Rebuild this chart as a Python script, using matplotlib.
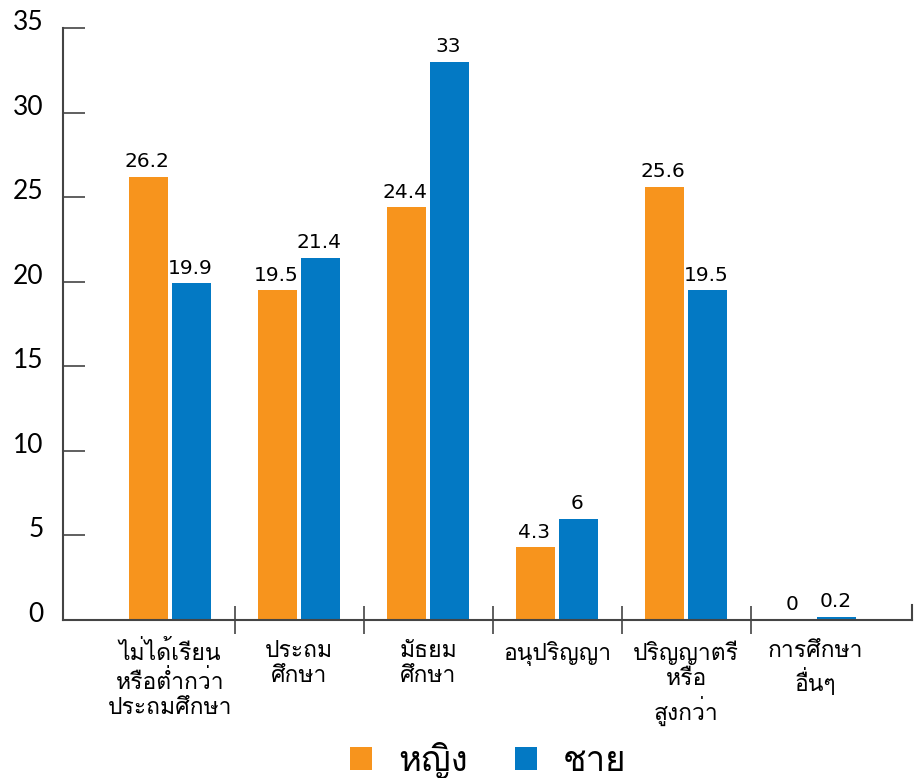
import matplotlib
matplotlib.use('Agg')
import matplotlib.pyplot as plt
import matplotlib.transforms as mtransforms
from matplotlib import font_manager
from matplotlib.ft2font import FT2Font
import numpy as np

# Данные
categories = ['ไม่ได้เรียน\nหรือต่ำกว่า\nประถมศึกษา', 'ประถม\nศึกษา', 'มัธยม\nศึกษา',
              'อนุปริญญา', 'ปริญญาตรี\nหรือ\nสูงกว่า', 'การศึกษา\nอื่นๆ']
female = [26.2, 19.5, 24.4, 4.3, 25.6, 0]
male = [19.9, 21.4, 33, 6, 19.5, 0.2]
female_labels = ['26.2', '19.5', '24.4', '4.3', '25.6', '0']
male_labels = ['19.9', '21.4', '33', '6', '19.5', '0.2']
series_names = ['หญิง', 'ชาย']
yticks = [0, 5, 10, 15, 20, 25, 30, 35]

ORANGE = '#F7941D'
BLUE = '#0379C4'
AXIS = '#444444'


def find_thai_font():
    # ищем любой установленный шрифт с тайскими глифами
    for f in font_manager.fontManager.ttflist:
        try:
            if 0x0E01 in FT2Font(f.fname).get_charmap():
                return f.name
        except Exception:
            pass
    return None


thai = find_thai_font()
families = ([thai] if thai else []) + ['DejaVu Sans']
plt.rcParams['font.family'] = families

fig = plt.figure(figsize=(9.18, 7.78), dpi=100)
ax = fig.add_axes([63 / 918, 1 - 620 / 778, (912 - 63) / 918, (620 - 28) / 778])

x = np.arange(len(categories))
w = 0.30
off = 0.167
b1 = ax.bar(x - off, female, w, color=ORANGE, label=series_names[0], zorder=2)
b2 = ax.bar(x + off, male, w, color=BLUE, label=series_names[1], zorder=2)

for bars, labels in ((b1, female_labels), (b2, male_labels)):
    for rect, lab in zip(bars, labels):
        ax.annotate(lab, (rect.get_x() + rect.get_width() / 2, rect.get_height()),
                    xytext=(-1, 4), textcoords='offset points', ha='center', va='bottom',
                    fontsize=14.5, family='DejaVu Sans')

ax.set_xlim(-0.83, 5.75)
ax.set_ylim(0, 35)

# Ось Y
ax.set_yticks(yticks)
ax.set_yticklabels([str(v) for v in yticks], fontsize=19, family=['Lato', 'DejaVu Sans'])
ax.tick_params(axis='y', direction='in', length=16, width=1.2, color=AXIS, pad=14)
shift = mtransforms.ScaledTranslation(0, 8 / 100, fig.dpi_scale_trans)
for lab in ax.get_yticklabels():
    lab.set_transform(lab.get_transform() + shift)

# Ось X: разделители между категориями
ax.set_xticks(x)
ax.set_xticklabels(categories, fontsize=16.5, linespacing=1.25, va='top')
ax.tick_params(axis='x', which='major', length=0, pad=15)
ax.set_xticks(np.arange(0.5, len(categories) - 1), minor=True)
ax.tick_params(axis='x', which='minor', direction='inout', length=20, width=1.2, color=AXIS)

ax.spines['top'].set_visible(False)
ax.spines['right'].set_bounds(0, 0.9)
for s in ('left', 'bottom', 'right'):
    ax.spines[s].set_color(AXIS)
    ax.spines[s].set_linewidth(1.5)

fig.legend(loc='center', bbox_to_anchor=(0.532, 0.023), ncol=2, frameon=False,
           fontsize=25, handlelength=0.63, handleheight=0.63, columnspacing=1.35,
           handletextpad=0.75)

fig.savefig('out.png', dpi=100, facecolor='white')
